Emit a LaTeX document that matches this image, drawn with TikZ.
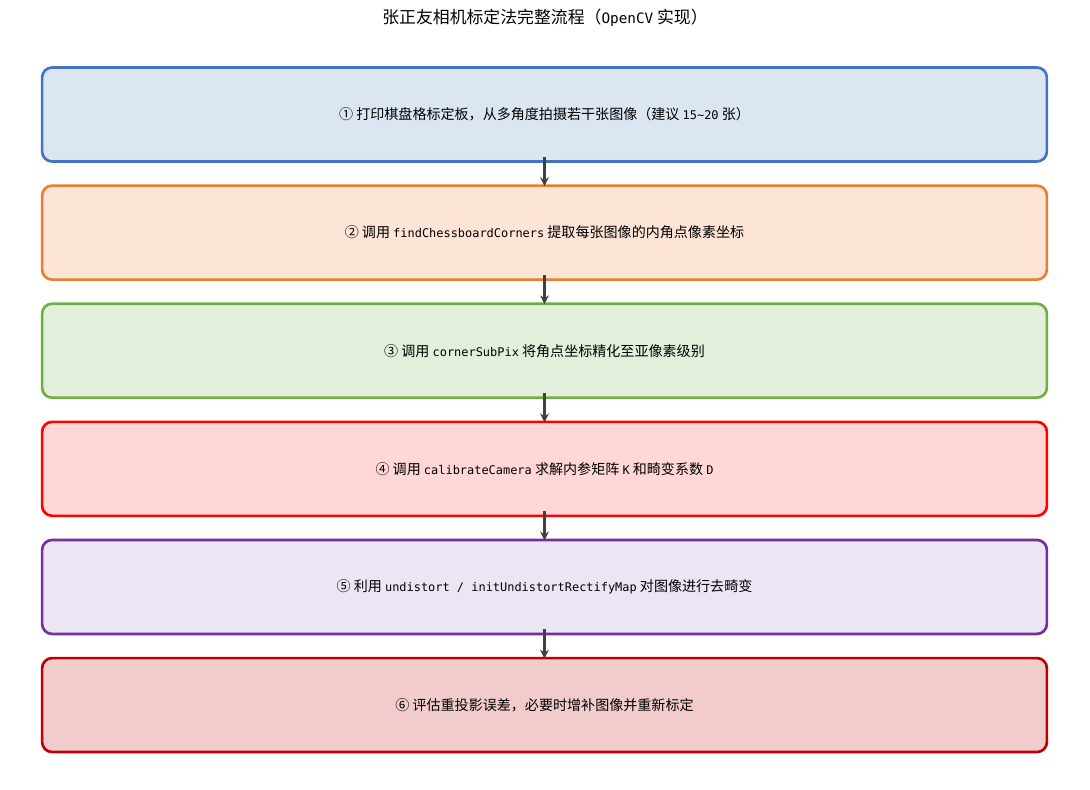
\documentclass[tikz,border=0pt]{standalone}
\usepackage{fontspec}
\setmainfont{Noto Sans CJK SC}
\setmonofont{DejaVu Sans Mono}[Scale=0.85]
\usetikzlibrary{positioning,arrows.meta}

\definecolor{bleuT}{HTML}{4472C4}  \definecolor{bleuF}{HTML}{DCE6F1}
\definecolor{orangeT}{HTML}{ED7D31}\definecolor{orangeF}{HTML}{FCE4D6}
\definecolor{vertT}{HTML}{70AD47}  \definecolor{vertF}{HTML}{E2EFDA}
\definecolor{rougeT}{HTML}{FF0000} \definecolor{rougeF}{HTML}{FFD7D7}
\definecolor{violetT}{HTML}{7030A0}\definecolor{violetF}{HTML}{ECE6F4}
\definecolor{bordeauT}{HTML}{C00000}\definecolor{bordeauF}{HTML}{F2CCCC}
\definecolor{gris}{HTML}{404040}

\begin{document}
\begin{tikzpicture}[x=0.02cm, y=-0.02cm,
	etape/.style={draw, rounded corners=0.2cm, line width=1.5pt,
		minimum width=20.1cm, minimum height=1.88cm, inner sep=0pt,
		font=\fontsize{8}{9.5}\selectfont},
	fleche/.style={-{Stealth[length=5pt, width=5pt]}, line width=1.5pt, draw=gris,
		shorten <=-3.4pt, shorten >=-1pt},
	node distance=0.43cm]
	\useasboundingbox (0,0) rectangle (1090,790);
	% Titre
	\node (titre) at (545,18) {\fontsize{9.6}{11}\selectfont 张正友相机标定法完整流程（\texttt{OpenCV} 实现）};
	% Etapes
	\node[etape, draw=bleuT, fill=bleuF] (e1) at (544.5,114.5)
		{① 打印棋盘格标定板，从多角度拍摄若干张图像（建议 \texttt{15\textasciitilde 20} 张）};
	\node[etape, draw=orangeT, fill=orangeF, below=of e1] (e2)
		{② 调用 \texttt{findChessboardCorners} 提取每张图像的内角点像素坐标};
	\node[etape, draw=vertT, fill=vertF, below=of e2] (e3)
		{③ 调用 \texttt{cornerSubPix} 将角点坐标精化至亚像素级别};
	\node[etape, draw=rougeT, fill=rougeF, below=of e3] (e4)
		{④ 调用 \texttt{calibrateCamera} 求解内参矩阵 \texttt{K} 和畸变系数 \texttt{D}};
	\node[etape, draw=violetT, fill=violetF, below=of e4] (e5)
		{⑤ 利用 \texttt{undistort / initUndistortRectifyMap} 对图像进行去畸变};
	\node[etape, draw=bordeauT, fill=bordeauF, below=of e5] (e6)
		{⑥ 评估重投影误差，必要时增补图像并重新标定};
	% Fleches
	\foreach \a/\b in {e1/e2, e2/e3, e3/e4, e4/e5, e5/e6}
		\draw[fleche] (\a.south) -- (\b.north);
\end{tikzpicture}
\end{document}
